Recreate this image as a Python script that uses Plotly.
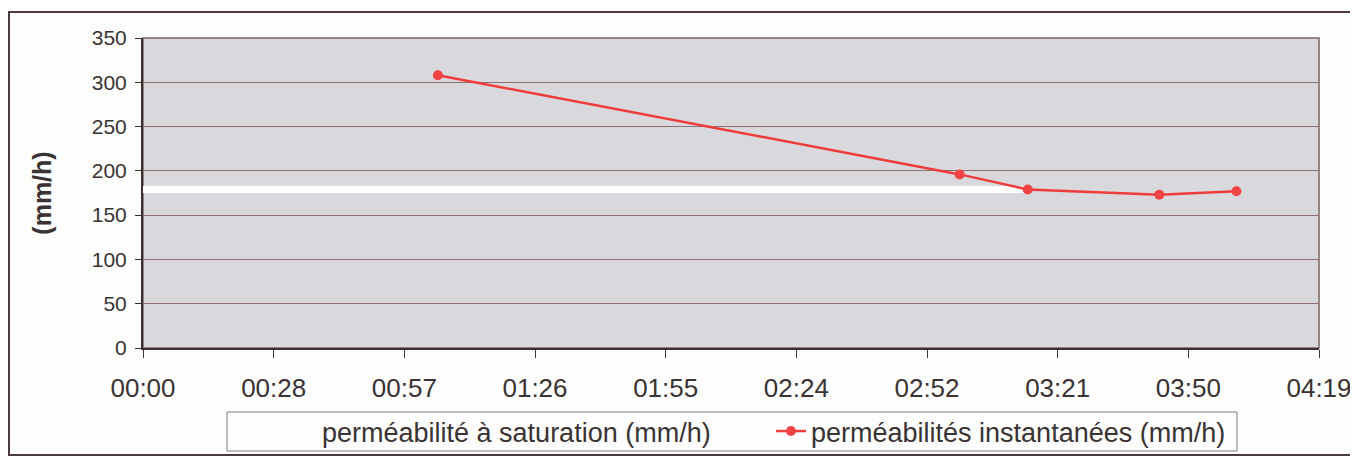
import plotly.graph_objects as go

# ---- data ----
inst_times = ["01:05", "03:00", "03:15", "03:44", "04:01"]
inst_values = [308, 196, 179, 173, 177]
sat_times = ["00:00", "03:15"]
sat_values = [179, 179]
y_ticks = [0, 50, 100, 150, 200, 250, 300, 350]
x_tick_labels = ["00:00", "00:28", "00:57", "01:26", "01:55", "02:24", "02:52", "03:21", "03:50", "04:19"]
x_tick_step_min = 28.8
inst_name = "perméabilités instantanées (mm/h)"
sat_name = "perméabilité à saturation (mm/h)"
y_title = "(mm/h)"


def to_min(t):
    h, m = t.split(":")
    return int(h) * 60 + int(m)


inst_x = [to_min(t) for t in inst_times]
sat_x = [to_min(t) for t in sat_times]
x_tick_vals = [i * x_tick_step_min for i in range(len(x_tick_labels))]

OFF = 8  # page body margin
W, H = 1358 - OFF, 464 - 2 * OFF
L, R, T, B = 143 - OFF, 1319 - OFF, 38 - OFF, 348 - OFF  # plot area (figure px)
TXT = "#3a3333"
FONT = "Liberation Sans, Arial, sans-serif"


def px(x):  # screen x -> paper
    return (x - OFF - L) / (R - L)


def py(y):  # screen y -> paper
    return (B - (y - OFF)) / (B - T)


fig = go.Figure()
fig.add_trace(go.Scatter(
    x=sat_x, y=sat_values, name=sat_name, mode="lines",
    line=dict(color="#ffffff", width=7), hoverinfo="skip",
))
fig.add_trace(go.Scatter(
    x=inst_x, y=inst_values, name=inst_name, mode="lines+markers",
    line=dict(color="#ee3b3b", width=2.5),
    marker=dict(color="#f04444", size=10),
))

FRAME = "#4a3c3c"
shapes = [
    # plot area border (top/right)
    dict(type="rect", xref="paper", yref="paper", x0=0, x1=1, y0=0, y1=1,
         line=dict(color="#7a6460", width=1.5), layer="below"),
    # legend box
    dict(type="rect", xref="paper", yref="paper", x0=px(227), x1=px(1237),
         y0=py(451), y1=py(412), line=dict(color="#8a7a78", width=1),
         fillcolor="rgba(0,0,0,0)"),
    # outer chart frame
    dict(type="line", xref="paper", yref="paper", x0=px(8), x1=px(1358),
         y0=py(12), y1=py(12), line=dict(color=FRAME, width=2)),
    dict(type="line", xref="paper", yref="paper", x0=px(9), x1=px(9),
         y0=py(12), y1=py(455), line=dict(color=FRAME, width=2)),
    dict(type="line", xref="paper", yref="paper", x0=px(8), x1=px(1358),
         y0=py(455), y1=py(455), line=dict(color=FRAME, width=2)),
]

fig.update_layout(
    width=W, height=H,
    margin=dict(l=L, r=W - R, t=T, b=H - B, autoexpand=False),
    paper_bgcolor="#fdfdfd",
    plot_bgcolor="#d9d9dd",
    font=dict(family=FONT, color=TXT),
    showlegend=True,
    legend=dict(
        orientation="h", x=px(282), xanchor="left",
        y=py(431.5), yanchor="middle",
        font=dict(size=27, color=TXT, family=FONT),
        bgcolor="rgba(0,0,0,0)", borderwidth=0,
        entrywidth=444, traceorder="normal",
    ),
    shapes=shapes,
    xaxis=dict(
        range=[0, x_tick_vals[-1]], tickmode="array",
        tickvals=x_tick_vals, ticktext=x_tick_labels,
        showgrid=False, zeroline=False,
        showline=True, linecolor="#3a3030", linewidth=2,
        ticks="outside", ticklen=8, tickcolor="#3a3030", tickwidth=1,
        tickfont=dict(size=26, color=TXT, family=FONT),
        ticklabelstandoff=8,
        fixedrange=True,
    ),
    yaxis=dict(
        range=[0, 350], tickmode="array", tickvals=y_ticks,
        showgrid=True, gridcolor="#8a7070", gridwidth=1,
        zeroline=False,
        showline=True, linecolor="#3a3030", linewidth=2,
        ticks="outside", ticklen=6, tickcolor="#3a3030", tickwidth=1,
        tickfont=dict(size=21, color=TXT, family=FONT),
        ticklabelstandoff=4,
        layer="below traces",
        title=dict(text="<b>" + y_title + "</b>",
                   font=dict(size=25, color=TXT, family=FONT), standoff=33),
        fixedrange=True,
    ),
)

fig.write_html("out.html")
